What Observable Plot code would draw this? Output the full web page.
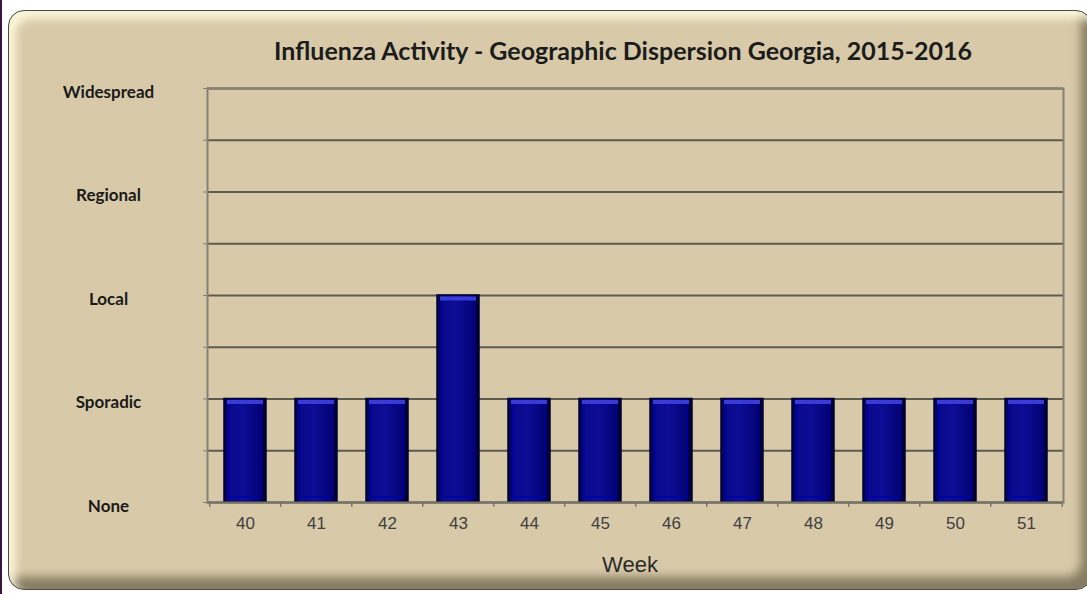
<!DOCTYPE html>
<html>
<head>
<meta charset="utf-8">
<script src="https://cdn.jsdelivr.net/npm/d3@7"></script>
<script src="https://cdn.jsdelivr.net/npm/@observablehq/plot@0.6"></script>
<style>
  html, body { margin: 0; padding: 0; background: #ffffff; }
  #wrap { position: relative; width: 1087px; height: 594px; overflow: hidden; }
  #edge { position: absolute; left: 0; top: 0; width: 2px; height: 594px; background: #3b1442; }
  #panel {
    position: absolute; left: 8px; top: 10px; width: 1084px; height: 580px;
    box-sizing: border-box; border-radius: 16px;
    background: #d8caa9;
    border: 1.5px solid #4a4a48;
    box-shadow: inset 7px 8px 9px rgba(255,252,225,0.85), inset -10px -12px 10px rgba(70,60,40,0.55);
  }
  #title {
    position: absolute; left: 0; top: 35px; width: 1246px; text-align: center;
    font-family: Lato, "Open Sans", sans-serif; font-weight: bold; font-size: 25px; color: #1c1c1c;
  }
  #xlabel {
    position: absolute; left: 0; top: 552px; width: 1260px; text-align: center;
    font-family: "Liberation Sans", Arial, sans-serif; font-size: 22px; color: #2a2a2a;
  }
  #chart { position: absolute; left: 0; top: 0; }
</style>
</head>
<body>
<div id="wrap">
  <div id="edge"></div>
  <div id="panel"></div>
  <div id="title">Influenza Activity - Geographic Dispersion Georgia, 2015-2016</div>
  <div id="chart"></div>
  <div id="xlabel">Week</div>
</div>
<script>
const weeks = ["40","41","42","43","44","45","46","47","48","49","50","51"];
const activity = [1, 1, 1, 2, 1, 1, 1, 1, 1, 1, 1, 1];
const levelValues = [0, 1, 2, 3, 4];
const levelNames = ["None", "Sporadic", "Local", "Regional", "Widespread"];
const gridValues = [0, 0.5, 1, 1.5, 2, 2.5, 3, 3.5, 4];

const data = weeks.map((w, i) => ({week: w, value: activity[i]}));
const levels = levelValues.map((v, i) => ({value: v, name: levelNames[i]}));

const W = 1087, H = 594, mL = 207, mR = 24, mT = 88, mB = 92;
const half = (W - mL - mR) / weeks.length / 2;

const chart = Plot.plot({
  width: W, height: H,
  marginLeft: mL, marginRight: mR, marginTop: mT, marginBottom: mB,
  style: {background: "transparent", overflow: "visible"},
  x: {type: "band", domain: weeks, paddingInner: 0.41, paddingOuter: 0.205},
  y: {domain: [0, 4]},
  marks: [
    Plot.gridY(gridValues, {stroke: "#5e5a4e", strokeOpacity: 1, strokeWidth: 2}),
    Plot.frame({stroke: "#858278", strokeWidth: 2}),
    Plot.axisY(gridValues, {tickSize: 4, tickFormat: () => "", stroke: "#858278", label: null}),
    Plot.barY(data, {x: "week", y: "value", fill: "url(#barGrad)", stroke: "#000030", strokeWidth: 1.5}),
    Plot.barY(data, {x: "week", y: "value", fill: "none", stroke: "#0000a8", strokeWidth: 1.5, inset: 5}),
    Plot.tickY(data, {x: "week", y: "value", stroke: "#3a3ad6", strokeWidth: 4, dy: 3, inset: 3}),
    Plot.axisX({tickSize: 0, tickPadding: 14, fontSize: 17, fill: "#404040", fontFamily: "Liberation Sans, Arial, sans-serif", label: null}),
    Plot.axisX(weeks, {tickSize: 5, dx: -half, tickFormat: () => "", stroke: "#555", label: null}),
    Plot.axisX(weeks.slice(-1), {tickSize: 5, dx: half, tickFormat: () => "", stroke: "#555", label: null}),
    Plot.ruleY([0], {stroke: "#77746a", strokeWidth: 2}),
    Plot.text(levels, {
      y: "value", text: "name", frameAnchor: "left", textAnchor: "middle",
      dx: -99, dy: 4, fontSize: 17, fontWeight: "bold", fill: "#1a1a1a",
      fontFamily: "Lato, Open Sans, sans-serif"
    })
  ]
});

// gradient for bars (horizontal shading)
const svg = d3.select(chart);
const defs = svg.insert("defs", ":first-child");
const g = defs.append("linearGradient").attr("id", "barGrad").attr("x1", "0").attr("x2", "1").attr("y1", "0").attr("y2", "0");
g.append("stop").attr("offset", "0%").attr("stop-color", "#00004a");
g.append("stop").attr("offset", "14%").attr("stop-color", "#0a0a8c");
g.append("stop").attr("offset", "45%").attr("stop-color", "#0d0d96");
g.append("stop").attr("offset", "80%").attr("stop-color", "#05057c");
g.append("stop").attr("offset", "100%").attr("stop-color", "#000028");

document.getElementById("chart").appendChild(chart);
</script>
</body>
</html>
